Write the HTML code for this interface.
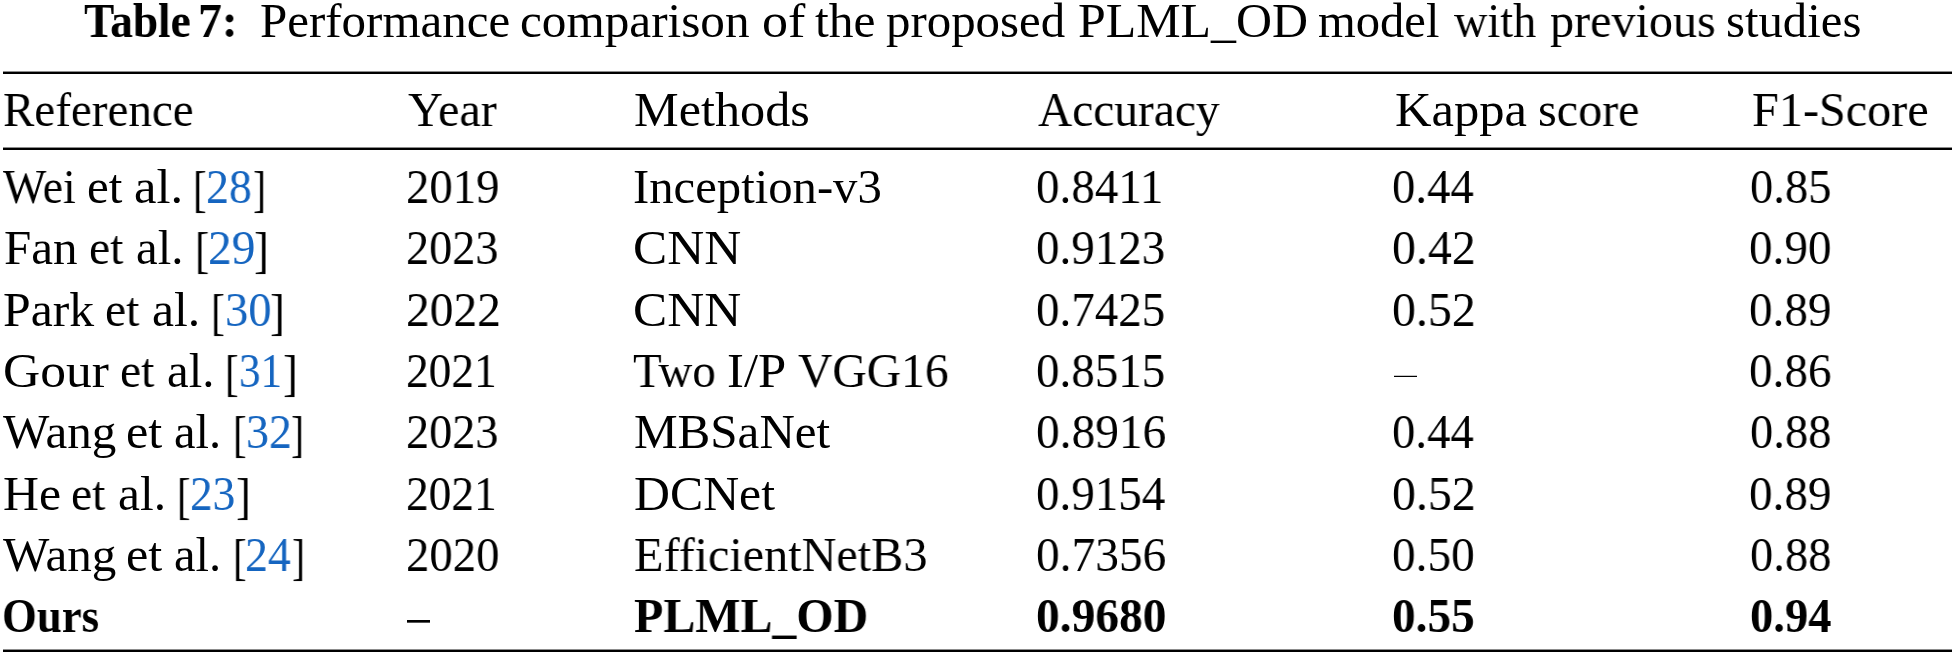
<!DOCTYPE html>
<html><head><meta charset="utf-8"><style>
html,body{margin:0;padding:0;background:#fff;}
body{width:1954px;height:658px;position:relative;overflow:hidden;font-family:"Liberation Serif",serif;font-size:48.5px;color:#000;}
.c{position:absolute;white-space:pre;line-height:1.107em;transform-origin:0 0;will-change:transform;}
.c a{color:#1565c0;text-decoration:none;}
.r{position:absolute;left:3px;width:1949px;background:#000;}
</style></head><body>
<div class="c" id="t0" style="left:83.77px;top:-5.91px;transform:scaleX(0.9357);"><b>Table</b></div>
<div class="c" id="t1" style="left:197.95px;top:-5.91px;transform:scaleX(0.9819);"><b>7:</b></div>
<div class="c" id="t2" style="left:259.59px;top:-5.91px;transform:scaleX(1.0098);">Performance</div>
<div class="c" id="t3" style="left:520.28px;top:-5.91px;transform:scaleX(1.0143);">comparison</div>
<div class="c" id="t4" style="left:761.86px;top:-5.91px;transform:scaleX(1.0719);">of</div>
<div class="c" id="t5" style="left:815.49px;top:-5.91px;transform:scaleX(1.0208);">the</div>
<div class="c" id="t6" style="left:886.20px;top:-5.91px;transform:scaleX(1.0079);">proposed</div>
<div class="c" id="t7" style="left:1077.88px;top:-5.91px;transform:scaleX(1.0280);">PLML_OD</div>
<div class="c" id="t8" style="left:1318.40px;top:-5.91px;transform:scaleX(1.0016);">model</div>
<div class="c" id="t9" style="left:1453.88px;top:-5.91px;transform:scaleX(0.9536);">with</div>
<div class="c" id="t10" style="left:1549.51px;top:-5.91px;transform:scaleX(0.9915);">previous</div>
<div class="c" id="t11" style="left:1726.09px;top:-5.91px;transform:scaleX(1.0046);">studies</div>
<div class="c" id="h0" style="left:2.92px;top:82.79px;transform:scaleX(0.9701);">Reference</div>
<div class="c" id="h1" style="left:407.50px;top:82.79px;transform:scaleX(0.9933);">Year</div>
<div class="c" id="h2" style="left:633.66px;top:82.79px;transform:scaleX(1.0359);">Methods</div>
<div class="c" id="h3" style="left:1037.51px;top:82.79px;transform:scaleX(0.9775);">Accuracy</div>
<div class="c" id="h5" style="left:1752.31px;top:82.79px;transform:scaleX(0.9943);">F1-Score</div>
<div class="c" id="h4a" style="left:1394.74px;top:82.79px;transform:scaleX(1.0432);">Kappa</div>
<div class="c" id="h4b" style="left:1537.82px;top:82.79px;transform:scaleX(0.9920);">score</div>
<div class="c" id="r1_0_0" style="left:2.89px;top:160.00px;transform:scaleX(0.9448);">Wei</div>
<div class="c" id="r1_0_1" style="left:86.88px;top:160.00px;transform:scaleX(1.0122);">et</div>
<div class="c" id="r1_0_2" style="left:133.70px;top:160.00px;transform:scaleX(1.0429);">al.</div>
<div class="c" id="r1_0_3" style="left:192.99px;top:160.00px;transform:translateY(1.03px) scale(0.8438,1.039);">[</div>
<div class="c" id="r1_0_4" style="left:206.11px;top:160.00px;transform:scaleX(0.9455);"><a>28</a></div>
<div class="c" id="r1_0_5" style="left:252.90px;top:160.00px;transform:translateY(1.03px) scale(0.8032,1.039);">]</div>
<div class="c" id="r2_0_0" style="left:3.69px;top:221.00px;transform:scaleX(1.0113);">Fan</div>
<div class="c" id="r2_0_1" style="left:88.74px;top:221.00px;transform:scaleX(0.9819);">et</div>
<div class="c" id="r2_0_2" style="left:136.20px;top:221.00px;transform:scaleX(1.0049);">al.</div>
<div class="c" id="r2_0_3" style="left:194.84px;top:221.00px;transform:translateY(1.03px) scale(0.8817,1.039);">[</div>
<div class="c" id="r2_0_4" style="left:208.04px;top:221.00px;transform:scaleX(0.9774);"><a>29</a></div>
<div class="c" id="r2_0_5" style="left:253.75px;top:221.00px;transform:translateY(1.03px) scale(0.9116,1.039);">]</div>
<div class="c" id="r3_0_0" style="left:3.27px;top:283.00px;transform:scaleX(1.0250);">Park</div>
<div class="c" id="r3_0_1" style="left:104.94px;top:283.00px;transform:scaleX(0.9819);">et</div>
<div class="c" id="r3_0_2" style="left:152.35px;top:283.00px;transform:scaleX(1.0238);">al.</div>
<div class="c" id="r3_0_3" style="left:210.98px;top:283.00px;transform:translateY(1.03px) scale(0.8626,1.039);">[</div>
<div class="c" id="r3_0_4" style="left:224.96px;top:283.00px;transform:scaleX(0.9602);"><a>30</a></div>
<div class="c" id="r3_0_5" style="left:269.88px;top:283.00px;transform:translateY(1.03px) scale(0.9116,1.039);">]</div>
<div class="c" id="r4_0_0" style="left:2.65px;top:344.00px;transform:scaleX(1.0619);">Gour</div>
<div class="c" id="r4_0_1" style="left:119.63px;top:344.00px;transform:scaleX(0.9819);">et</div>
<div class="c" id="r4_0_2" style="left:167.09px;top:344.00px;transform:scaleX(1.0049);">al.</div>
<div class="c" id="r4_0_3" style="left:225.34px;top:344.00px;transform:translateY(1.03px) scale(0.8438,1.039);">[</div>
<div class="c" id="r4_0_4" style="left:239.07px;top:344.00px;transform:scaleX(0.8865);"><a>31</a></div>
<div class="c" id="r4_0_5" style="left:283.01px;top:344.00px;transform:translateY(1.03px) scale(0.9116,1.039);">]</div>
<div class="c" id="r5_0_0" style="left:2.90px;top:405.00px;transform:scaleX(1.0126);">Wang</div>
<div class="c" id="r5_0_1" style="left:126.03px;top:405.00px;transform:scaleX(1.0367);">et</div>
<div class="c" id="r5_0_2" style="left:173.79px;top:405.00px;">al.</div>
<div class="c" id="r5_0_3" style="left:232.88px;top:405.00px;transform:translateY(1.03px) scale(0.8438,1.039);">[</div>
<div class="c" id="r5_0_4" style="left:246.41px;top:405.00px;transform:scaleX(0.9455);"><a>32</a></div>
<div class="c" id="r5_0_5" style="left:291.22px;top:405.00px;transform:translateY(1.03px) scale(0.8032,1.039);">]</div>
<div class="c" id="r6_0_0" style="left:3.28px;top:467.00px;transform:scaleX(1.0259);">He</div>
<div class="c" id="r6_0_1" style="left:70.74px;top:467.00px;transform:scaleX(0.9819);">et</div>
<div class="c" id="r6_0_2" style="left:118.18px;top:467.00px;transform:scaleX(1.0190);">al.</div>
<div class="c" id="r6_0_3" style="left:177.05px;top:467.00px;transform:translateY(1.03px) scale(0.8357,1.039);">[</div>
<div class="c" id="r6_0_4" style="left:190.31px;top:467.00px;transform:scaleX(0.9318);"><a>23</a></div>
<div class="c" id="r6_0_5" style="left:235.58px;top:467.00px;transform:translateY(1.03px) scale(0.9116,1.039);">]</div>
<div class="c" id="r7_0_0" style="left:2.90px;top:528.00px;transform:scaleX(1.0126);">Wang</div>
<div class="c" id="r7_0_1" style="left:126.03px;top:528.00px;transform:scaleX(1.0367);">et</div>
<div class="c" id="r7_0_2" style="left:173.79px;top:528.00px;">al.</div>
<div class="c" id="r7_0_3" style="left:232.88px;top:528.00px;transform:translateY(1.03px) scale(0.8438,1.039);">[</div>
<div class="c" id="r7_0_4" style="left:245.11px;top:528.00px;transform:scaleX(0.9435);"><a>24</a></div>
<div class="c" id="r7_0_5" style="left:291.78px;top:528.00px;transform:translateY(1.03px) scale(0.8032,1.039);">]</div>
<div class="c" id="r1_1" style="left:405.59px;top:160.00px;transform:scaleX(0.9635);">2019</div>
<div class="c" id="r1_2" style="left:632.70px;top:160.00px;transform:scaleX(1.0041);">Inception-v3</div>
<div class="c" id="r1_3" style="left:1035.58px;top:160.00px;transform:scaleX(0.9685);">0.8411</div>
<div class="c" id="r1_4" style="left:1392.48px;top:160.00px;transform:scaleX(0.9610);">0.44</div>
<div class="c" id="r1_5" style="left:1749.50px;top:160.00px;transform:scaleX(0.9580);">0.85</div>
<div class="c" id="r2_1" style="left:405.61px;top:221.00px;transform:scaleX(0.9527);">2023</div>
<div class="c" id="r2_2" style="left:632.58px;top:221.00px;transform:scaleX(1.0566);">CNN</div>
<div class="c" id="r2_3" style="left:1035.58px;top:221.00px;transform:scaleX(0.9677);">0.9123</div>
<div class="c" id="r2_4" style="left:1392.43px;top:221.00px;transform:scaleX(0.9851);">0.42</div>
<div class="c" id="r2_5" style="left:1749.47px;top:221.00px;transform:scaleX(0.9703);">0.90</div>
<div class="c" id="r3_1" style="left:405.55px;top:283.00px;transform:scaleX(0.9783);">2022</div>
<div class="c" id="r3_2" style="left:632.58px;top:283.00px;transform:scaleX(1.0566);">CNN</div>
<div class="c" id="r3_3" style="left:1035.58px;top:283.00px;transform:scaleX(0.9677);">0.7425</div>
<div class="c" id="r3_4" style="left:1392.43px;top:283.00px;transform:scaleX(0.9851);">0.52</div>
<div class="c" id="r3_5" style="left:1749.47px;top:283.00px;transform:scaleX(0.9703);">0.89</div>
<div class="c" id="r4_1" style="left:405.66px;top:344.00px;transform:scaleX(0.9348);">2021</div>
<div class="c" id="r4_3" style="left:1035.58px;top:344.00px;transform:scaleX(0.9677);">0.8515</div>
<div class="c" id="r4_5" style="left:1749.47px;top:344.00px;transform:scaleX(0.9709);">0.86</div>
<div class="c" id="r5_1" style="left:405.61px;top:405.00px;transform:scaleX(0.9527);">2023</div>
<div class="c" id="r5_2" style="left:633.69px;top:405.00px;transform:scaleX(1.0114);">MBSaNet</div>
<div class="c" id="r5_3" style="left:1035.56px;top:405.00px;transform:scaleX(0.9754);">0.8916</div>
<div class="c" id="r5_4" style="left:1392.48px;top:405.00px;transform:scaleX(0.9610);">0.44</div>
<div class="c" id="r5_5" style="left:1749.50px;top:405.00px;transform:scaleX(0.9580);">0.88</div>
<div class="c" id="r6_1" style="left:405.66px;top:467.00px;transform:scaleX(0.9348);">2021</div>
<div class="c" id="r6_2" style="left:633.67px;top:467.00px;transform:scaleX(1.0264);">DCNet</div>
<div class="c" id="r6_3" style="left:1035.58px;top:467.00px;transform:scaleX(0.9680);">0.9154</div>
<div class="c" id="r6_4" style="left:1392.43px;top:467.00px;transform:scaleX(0.9851);">0.52</div>
<div class="c" id="r6_5" style="left:1749.47px;top:467.00px;transform:scaleX(0.9703);">0.89</div>
<div class="c" id="r7_1" style="left:405.59px;top:528.00px;transform:scaleX(0.9635);">2020</div>
<div class="c" id="r7_2" style="left:633.71px;top:528.00px;transform:scaleX(0.9932);">EfficientNetB3</div>
<div class="c" id="r7_3" style="left:1035.56px;top:528.00px;transform:scaleX(0.9754);">0.7356</div>
<div class="c" id="r7_4" style="left:1392.46px;top:528.00px;transform:scaleX(0.9729);">0.50</div>
<div class="c" id="r7_5" style="left:1749.50px;top:528.00px;transform:scaleX(0.9580);">0.88</div>
<div class="c" id="r4_2a" style="left:632.92px;top:344.00px;transform:scaleX(0.9687);">Two</div>
<div class="c" id="r4_2b" style="left:727.13px;top:344.00px;transform:scaleX(1.0453);">I/P</div>
<div class="c" id="r4_2c" style="left:798.30px;top:344.00px;transform:scaleX(0.9816);">VGG16</div>
<div class="c" id="r8_0" style="left:2.15px;top:589.00px;transform:scaleX(0.9235);"><b>Ours</b></div>
<div class="c" id="r8_2" style="left:633.72px;top:589.00px;transform:scaleX(0.9881);"><b>PLML_OD</b></div>
<div class="c" id="r8_3" style="left:1035.56px;top:589.00px;transform:scaleX(0.9769);"><b>0.9680</b></div>
<div class="c" id="r8_4" style="left:1392.46px;top:589.00px;transform:scaleX(0.9729);"><b>0.55</b></div>
<div class="c" id="r8_5" style="left:1749.50px;top:589.00px;transform:scaleX(0.9586);"><b>0.94</b></div>
<div class="r" style="top:71px;height:1px;background:#8c8c8c"></div>
<div class="r" style="top:72px;height:2px"></div>
<div class="r" style="top:147px;height:1px;background:#8c8c8c"></div>
<div class="r" style="top:148px;height:2px"></div>
<div class="r" style="top:649px;height:1px;background:#8c8c8c"></div>
<div class="r" style="top:650px;height:2px"></div>
<div style="position:absolute;left:1394px;top:375px;width:23px;height:1px;background:#c4c4c4"></div>
<div style="position:absolute;left:1394px;top:376px;width:23px;height:1px;background:#000"></div>
<div style="position:absolute;left:407px;top:620px;width:23px;height:2px;background:#000"></div>
<div style="position:absolute;left:407px;top:622px;width:23px;height:1px;background:#555"></div>
</body></html>
